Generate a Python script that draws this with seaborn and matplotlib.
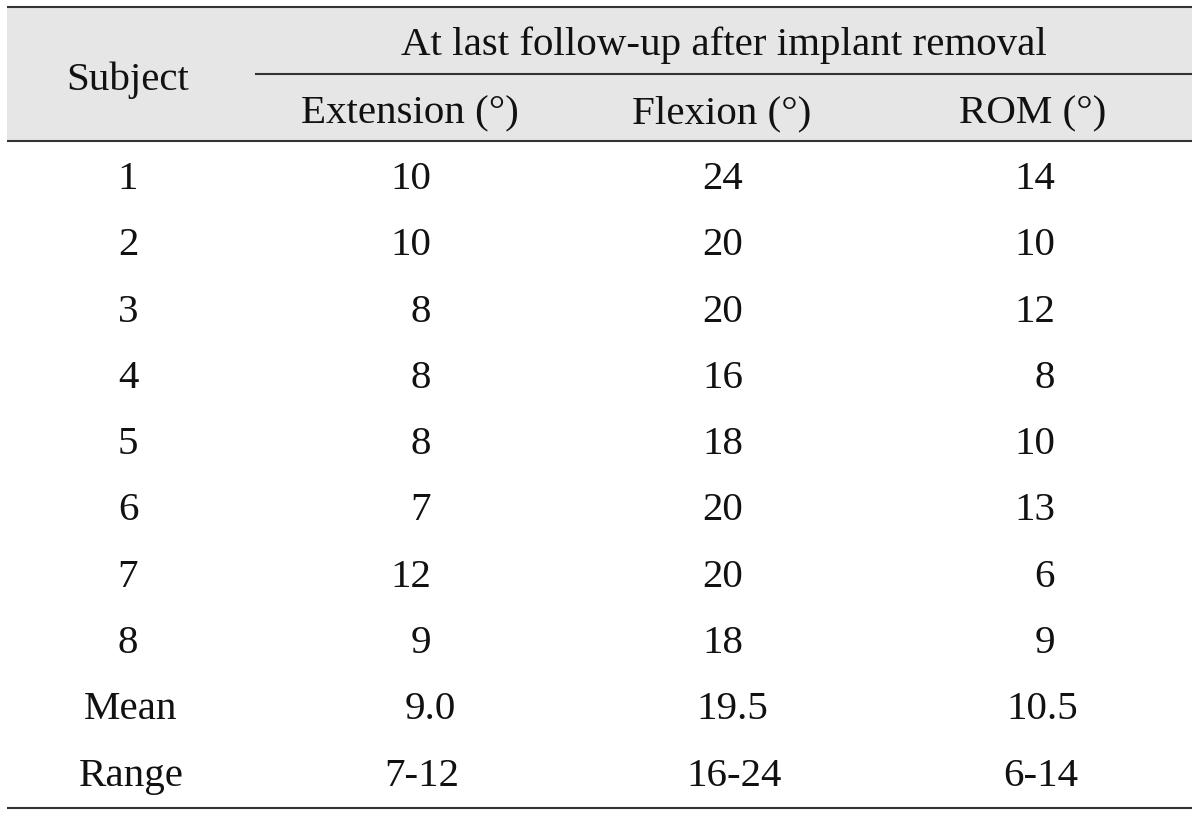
import matplotlib
matplotlib.use("Agg")
import matplotlib.pyplot as plt
from matplotlib.patches import Rectangle
import seaborn as sns

# ---- data ----
group_header = "At last follow-up after implant removal"
subject_header = "Subject"
col_headers = ["Extension (°)", "Flexion (°)", "ROM (°)"]
subjects = ["1", "2", "3", "4", "5", "6", "7", "8"]
extension = [10, 10, 8, 8, 8, 7, 12, 9]
flexion = [24, 20, 20, 16, 18, 20, 20, 18]
rom = [14, 10, 12, 8, 10, 13, 6, 9]
summary_labels = ["Mean", "Range"]
summary_mean = ["9.0", "19.5", "10.5"]
summary_range = ["7-12", "16-24", "6-14"]

sns.set_theme(style="white")
plt.rcParams["font.family"] = ["Liberation Serif", "DejaVu Serif"]

W, H = 1200, 816
fig = plt.figure(figsize=(W / 100, H / 100), dpi=100)
ax = fig.add_axes([0, 0, 1, 1])
ax.set_xlim(0, W)
ax.set_ylim(H, 0)
ax.axis("off")
sns.despine(ax=ax, left=True, bottom=True)

fs = 29.5
tc = "#111111"
lc = "#333333"
lw = 1.5

# header background
ax.add_patch(Rectangle((7, 7), 1185, 134, facecolor="#e6e6e6", edgecolor="none", zorder=0))
ax.plot([7, 1192], [7, 7], color=lc, lw=lw, solid_capstyle="butt")
ax.plot([255, 1192], [74, 74], color=lc, lw=lw, solid_capstyle="butt")
ax.plot([7, 1192], [141, 141], color=lc, lw=lw, solid_capstyle="butt")
ax.plot([7, 1192], [808, 808], color=lc, lw=lw, solid_capstyle="butt")

# headers
ax.text(128, 90, subject_header, ha="center", va="baseline", fontsize=fs, color=tc)
ax.text(724, 55, group_header, ha="center", va="baseline", fontsize=fs, color=tc)
for x, h in zip([410, 722, 1033], col_headers):
    ax.text(x, 123, h, ha="center", va="baseline", fontsize=fs, color=tc)

# body
base0 = 189
step = 66.3
right_edges = [431, 743, 1055]
for i, s in enumerate(subjects):
    y = base0 + step * i
    ax.text(128, y, s, ha="center", va="baseline", fontsize=fs, color=tc)
    for xr, v in zip(right_edges, [extension[i], flexion[i], rom[i]]):
        ax.text(xr, y, str(v), ha="right", va="baseline", fontsize=fs, color=tc)

y = base0 + step * 8
ax.text(131, y, summary_labels[0], ha="center", va="baseline", fontsize=fs, color=tc)
for xr, v in zip([456, 768, 1078], summary_mean):
    ax.text(xr, y, v, ha="right", va="baseline", fontsize=fs, color=tc)

y = base0 + step * 9
ax.text(131, y, summary_labels[1], ha="center", va="baseline", fontsize=fs, color=tc)
for xc, v in zip([422, 734, 1041], summary_range):
    ax.text(xc, y, v, ha="center", va="baseline", fontsize=fs, color=tc)

fig.savefig("out.png", dpi=100, facecolor="white")
